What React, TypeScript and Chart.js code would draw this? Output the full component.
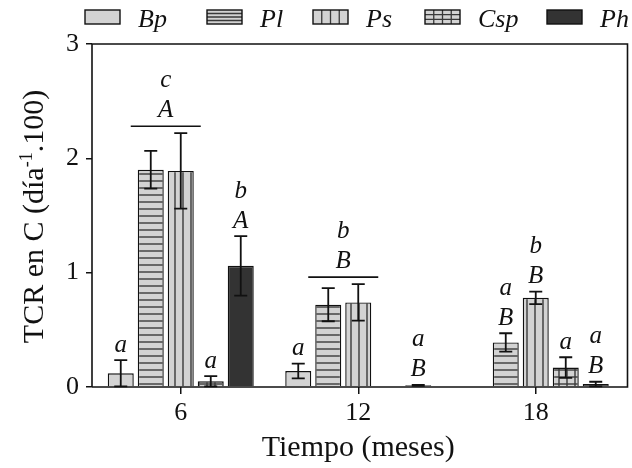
import React, { useEffect, useRef } from "react";
import { Chart, registerables } from "chart.js";

Chart.register(...registerables);

// Sampling times (months) and species
const months = ["6", "12", "18"];
const species = ["Bp", "Pl", "Ps", "Csp", "Ph"];
const yTicks = [0, 1, 2, 3];

// Mean decomposition rate (TCR en C, día^-1 .100); null = no bar
const bpMeans = [0.12, 0.14, null];
const plMeans = [1.9, 0.72, 0.39];
const psMeans = [1.89, 0.74, 0.78];
const cspMeans = [0.05, null, 0.17];
const phMeans = [1.06, 0.015, 0.026];

// Error bar half-lengths
const bpErrors = [0.115, 0.065, null];
const plErrors = [0.165, 0.145, 0.08];
const psErrors = [0.33, 0.16, 0.055];
const cspErrors = [0.045, null, 0.09];
const phErrors = [0.26, 0.004, 0.02];

// Significance letters: lower case compares species, upper case compares months
const bpLower = ["a", "a", ""];
const bpUpper = ["", "", ""];
const plLower = ["", "", "a"];
const plUpper = ["", "", "B"];
const psLower = ["", "", "b"];
const psUpper = ["", "", "B"];
const cspLower = ["a", "", "a"];
const cspUpper = ["", "", ""];
const phLower = ["b", "a", "a"];
const phUpper = ["A", "B", "B"];
// Letters shared by Pl and Ps (drawn over a bracket)
const pairLower = ["c", "b", ""];
const pairUpper = ["A", "B", ""];

const meanSets = [bpMeans, plMeans, psMeans, cspMeans, phMeans];
const errorSets = [bpErrors, plErrors, psErrors, cspErrors, phErrors];
const lowerSets = [bpLower, plLower, psLower, cspLower, phLower];
const upperSets = [bpUpper, plUpper, psUpper, cspUpper, phUpper];

const SERIF = '"Liberation Serif", "Times New Roman", serif';
const INK = "#111111";
const LIGHT = "#d3d3d3";
const DARK = "#333333";
const HATCH = "#3a3a3a";

type Hatch = "plain" | "horizontal" | "vertical" | "grid" | "solid";
const hatches: Hatch[] = ["plain", "horizontal", "vertical", "grid", "solid"];

function makeFill(ctx: CanvasRenderingContext2D, hatch: Hatch): any {
  if (hatch === "solid") return DARK;
  if (hatch === "plain") return LIGHT;
  const w = 8;
  const h = 7;
  const tile = document.createElement("canvas");
  tile.width = w;
  tile.height = h;
  const p = tile.getContext("2d")!;
  p.fillStyle = LIGHT;
  p.fillRect(0, 0, w, h);
  p.strokeStyle = HATCH;
  p.lineWidth = 1.4;
  if (hatch === "horizontal" || hatch === "grid") {
    p.beginPath();
    p.moveTo(0, h - 1);
    p.lineTo(w, h - 1);
    p.stroke();
  }
  if (hatch === "vertical" || hatch === "grid") {
    p.beginPath();
    p.moveTo(w - 1, 0);
    p.lineTo(w - 1, h);
    p.stroke();
  }
  return ctx.createPattern(tile, "repeat");
}

function drawSwatch(c: CanvasRenderingContext2D, x: number, y: number, w: number, h: number, hatch: Hatch) {
  c.save();
  c.fillStyle = hatch === "solid" ? DARK : LIGHT;
  c.fillRect(x, y, w, h);
  c.strokeStyle = HATCH;
  c.lineWidth = 1.3;
  c.beginPath();
  if (hatch === "horizontal") {
    for (let k = 1; k < 4; k++) {
      c.moveTo(x, y + (h * k) / 4);
      c.lineTo(x + w, y + (h * k) / 4);
    }
  }
  if (hatch === "vertical" || hatch === "grid") {
    for (let k = 1; k < 4; k++) {
      c.moveTo(x + (w * k) / 4, y);
      c.lineTo(x + (w * k) / 4, y + h);
    }
  }
  if (hatch === "grid") {
    for (let k = 1; k < 3; k++) {
      c.moveTo(x, y + (h * k) / 3);
      c.lineTo(x + w, y + (h * k) / 3);
    }
  }
  c.stroke();
  c.strokeStyle = INK;
  c.lineWidth = 1.4;
  c.strokeRect(x, y, w, h);
  c.restore();
}

// Box around the plot (left, top, right edges and the baseline)
const framePlugin = {
  id: "frame",
  afterDatasetsDraw(chart: any) {
    const { ctx, chartArea } = chart;
    const right = chart.width - 4.5;
    ctx.save();
    ctx.strokeStyle = INK;
    ctx.lineWidth = 1.6;
    ctx.beginPath();
    ctx.moveTo(chartArea.left, chartArea.bottom);
    ctx.lineTo(chartArea.left, chartArea.top);
    ctx.lineTo(right, chartArea.top);
    ctx.lineTo(right, chartArea.bottom);
    ctx.lineTo(chartArea.left, chartArea.bottom);
    ctx.stroke();
    ctx.restore();
  },
};

// Error bars and significance letters
const annotatePlugin = {
  id: "annotate",
  afterDatasetsDraw(chart: any) {
    const { ctx } = chart;
    const y = chart.scales.y;
    ctx.save();
    ctx.strokeStyle = INK;
    ctx.fillStyle = INK;
    ctx.lineWidth = 1.8;
    ctx.font = `italic 25px ${SERIF}`;
    ctx.textAlign = "center";
    ctx.textBaseline = "alphabetic";
    const cap = 6.5;
    for (let i = 0; i < meanSets.length; i++) {
      const meta = chart.getDatasetMeta(i);
      for (let j = 0; j < months.length; j++) {
        const v = meanSets[i][j];
        if (v == null) continue;
        const e = errorSets[i][j] ?? 0;
        const bar = meta.data[j];
        const x = bar.x;
        if (e > 0) {
          const yt = y.getPixelForValue(v + e);
          const yb = y.getPixelForValue(Math.max(0, v - e));
          ctx.beginPath();
          ctx.moveTo(x, yt);
          ctx.lineTo(x, yb);
          ctx.moveTo(x - cap, yt);
          ctx.lineTo(x + cap, yt);
          ctx.moveTo(x - cap, yb);
          ctx.lineTo(x + cap, yb);
          ctx.stroke();
        }
        let base = y.getPixelForValue(v + e) - 8.5;
        if (upperSets[i][j]) {
          ctx.fillText(upperSets[i][j], x, base);
          base -= 30;
        }
        if (lowerSets[i][j]) ctx.fillText(lowerSets[i][j], x, base);
      }
    }
    // Bracket over Pl and Ps
    const mA = chart.getDatasetMeta(1);
    const mB = chart.getDatasetMeta(2);
    for (let j = 0; j < months.length; j++) {
      if (!pairLower[j] && !pairUpper[j]) continue;
      const a = mA.data[j];
      const b = mB.data[j];
      const topVal = Math.max(
        (plMeans[j] ?? 0) + (plErrors[j] ?? 0),
        (psMeans[j] ?? 0) + (psErrors[j] ?? 0)
      );
      const lineY = y.getPixelForValue(topVal) - 7;
      const left = a.x - a.width / 2 - 7;
      const right = b.x + b.width / 2 + 7;
      ctx.lineWidth = 1.6;
      ctx.beginPath();
      ctx.moveTo(left, lineY);
      ctx.lineTo(right, lineY);
      ctx.stroke();
      const cx = (a.x + b.x) / 2;
      let base = lineY - 9;
      if (pairUpper[j]) {
        ctx.fillText(pairUpper[j], cx, base);
        base -= 30;
      }
      if (pairLower[j]) ctx.fillText(pairLower[j], cx, base);
    }
    ctx.restore();
  },
};

// Legend row across the top
const legendPlugin = {
  id: "speciesLegend",
  afterDraw(chart: any) {
    const { ctx } = chart;
    const xs = [85, 207, 313, 425, 547];
    ctx.save();
    ctx.font = `italic 26px ${SERIF}`;
    ctx.fillStyle = INK;
    ctx.textAlign = "left";
    ctx.textBaseline = "alphabetic";
    species.forEach((name, i) => {
      drawSwatch(ctx, xs[i], 10, 35, 14, hatches[i]);
      ctx.fillText(name, xs[i] + 53, 27);
    });
    ctx.restore();
  },
};

// Rotated y-axis title with a superscript exponent
const yTitlePlugin = {
  id: "yTitle",
  afterDraw(chart: any) {
    const { ctx } = chart;
    const big = `30px ${SERIF}`;
    const small = `18px ${SERIF}`;
    const parts = [
      { t: "TCR en C (día", f: big, dy: 0 },
      { t: "-1", f: small, dy: -11 },
      { t: ".100)", f: big, dy: 0 },
    ];
    let total = 0;
    const widths = parts.map((p) => {
      ctx.font = p.f;
      const w = ctx.measureText(p.t).width;
      total += w;
      return w;
    });
    ctx.save();
    ctx.translate(42.5, 216.5);
    ctx.rotate(-Math.PI / 2);
    ctx.fillStyle = INK;
    ctx.textAlign = "left";
    ctx.textBaseline = "alphabetic";
    let x = -total / 2;
    parts.forEach((p, i) => {
      ctx.font = p.f;
      ctx.fillText(p.t, x, p.dy);
      x += widths[i];
    });
    ctx.restore();
  },
};

export default function App() {
  const ref = useRef<HTMLCanvasElement>(null);

  useEffect(() => {
    const canvas = ref.current!;
    const ctx = canvas.getContext("2d")!;
    const chart = new Chart(ctx, {
      type: "bar",
      data: {
        labels: months,
        datasets: species.map((name, i) => ({
          label: name,
          data: meanSets[i] as any,
          backgroundColor: makeFill(ctx, hatches[i]),
          borderColor: INK,
          borderWidth: 1.4,
          barPercentage: 0.867,
          categoryPercentage: 0.845,
        })),
      },
      options: {
        responsive: false,
        animation: false,
        devicePixelRatio: 1,
        layout: { padding: { left: 0, top: 44, right: 7.5, bottom: 0 } },
        plugins: {
          legend: { display: false },
          tooltip: { enabled: false },
        },
        scales: {
          x: {
            grid: {
              display: true,
              drawOnChartArea: false,
              offset: false,
              tickLength: 7,
              color: INK,
              lineWidth: 1.5,
            },
            border: { display: false },
            ticks: { font: { family: SERIF, size: 26 }, color: INK, padding: 4 },
            title: {
              display: true,
              text: "Tiempo (meses)",
              font: { family: SERIF, size: 30 },
              color: INK,
              padding: { top: 0, bottom: 2 },
            },
            afterFit: (s: any) => {
              s.height = 81;
            },
          },
          y: {
            min: 0,
            max: 3,
            afterBuildTicks: (s: any) => {
              s.ticks = yTicks.map((v) => ({ value: v }));
            },
            ticks: { font: { family: SERIF, size: 26 }, color: INK, padding: 7 },
            grid: {
              drawOnChartArea: false,
              tickLength: 6,
              color: INK,
              lineWidth: 1.5,
            },
            border: { display: false },
            afterFit: (s: any) => {
              s.width = 92;
            },
          },
        },
      },
      plugins: [framePlugin, annotatePlugin, legendPlugin, yTitlePlugin],
    });
    return () => chart.destroy();
  }, []);

  return (
    <canvas
      ref={ref}
      width={632}
      height={468}
      style={{ position: "fixed", left: 0, top: 0, width: 632, height: 468, background: "#fff" }}
    />
  );
}
